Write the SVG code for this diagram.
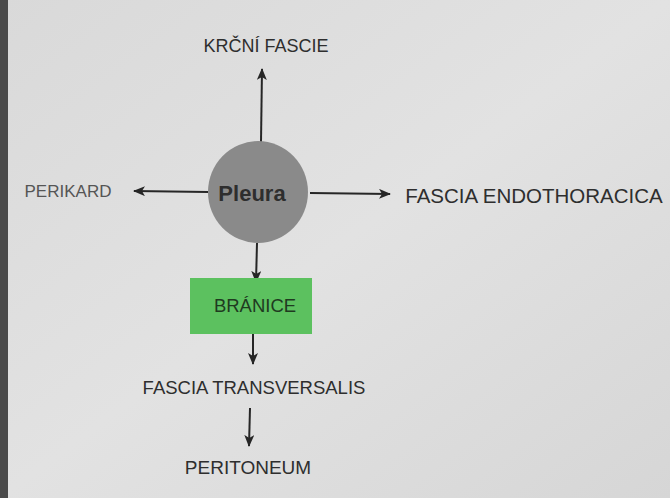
<svg xmlns="http://www.w3.org/2000/svg" width="670" height="498" viewBox="0 0 670 498">
<defs>
<marker id="ah" viewBox="0 0 12 10" refX="11" refY="5" markerWidth="12" markerHeight="10" markerUnits="userSpaceOnUse" orient="auto">
<path d="M0,0 L12,5 L0,10 L3,5 Z" fill="#262626"/>
</marker>
<linearGradient id="bg" x1="0" y1="0" x2="1" y2="1">
<stop offset="0" stop-color="#d9d9d9"/>
<stop offset="0.5" stop-color="#e2e2e2"/>
<stop offset="1" stop-color="#d6d6d6"/>
</linearGradient>
</defs>
<style>
.lbl{font-family:"Liberation Sans","Open Sans",Arial,sans-serif;fill:#2e2e2e;text-anchor:middle;dominant-baseline:central}
.con{stroke:#262626;stroke-width:2;fill:none;marker-end:url(#ah)}
</style>
<rect x="0" y="0" width="670" height="498" fill="url(#bg)"/>
<rect x="0" y="0" width="8" height="498" fill="#4a4a4a"/>
<g id="connectors">
<line class="con" x1="261" y1="142" x2="262" y2="69"/>
<line class="con" x1="208" y1="192" x2="134" y2="191"/>
<line class="con" x1="310" y1="193" x2="390" y2="194"/>
<line class="con" x1="257" y1="243" x2="256" y2="282"/>
<line class="con" x1="253" y1="328" x2="253" y2="364"/>
<line class="con" x1="250" y1="408" x2="249" y2="446"/>
</g>
<g id="pleura">
<ellipse cx="258" cy="192" rx="50" ry="51" fill="#8a8a8a"/>
<text class="lbl" x="252" y="193" font-size="22" font-weight="bold" fill="#222">Pleura</text>
</g>
<g id="krcni-fascie">
<text class="lbl" x="266" y="46" font-size="18">KRČNÍ FASCIE</text>
</g>
<g id="perikard">
<text class="lbl" x="68" y="191" font-size="17" style="fill:#555">PERIKARD</text>
</g>
<g id="fascia-endothoracica">
<text class="lbl" x="534" y="195" font-size="20.5">FASCIA ENDOTHORACICA</text>
</g>
<g id="branice">
<rect x="190" y="278" width="122" height="56" fill="#5cc15f"/>
<text class="lbl" x="255" y="305" font-size="18.5" style="fill:#1f3a1f">BRÁNICE</text>
</g>
<g id="fascia-transversalis">
<text class="lbl" x="254" y="387" font-size="18.5">FASCIA TRANSVERSALIS</text>
</g>
<g id="peritoneum">
<text class="lbl" x="248" y="467" font-size="19">PERITONEUM</text>
</g>
</svg>
